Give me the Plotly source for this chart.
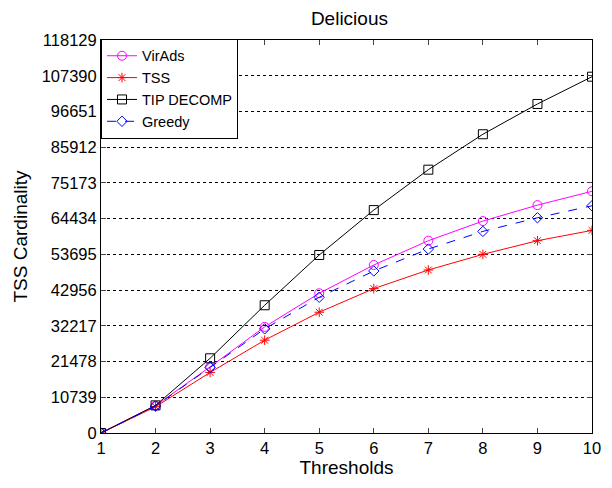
import plotly.graph_objects as go

thresholds = [1, 2, 3, 4, 5, 6, 7, 8, 9, 10]
viradss = [0, 8200, 19900, 31900, 42000, 50500, 57800, 63700, 68500, 72650]
tss = [0, 7900, 18200, 27900, 36300, 43400, 49000, 53700, 57800, 60900]
tip_decomp = [0, 8300, 22450, 38400, 53500, 67000, 79150, 89800, 98900, 107100]
greedy = [0, 8100, 19700, 31300, 40800, 48700, 55300, 60600, 64700, 68300]
y_ticks = [0, 10739, 21478, 32217, 42956, 53695, 64434, 75173, 85912, 96651, 107390, 118129]

font_family = "Liberation Sans, Arial, sans-serif"

fig = go.Figure()
series = [
    ("VirAds", viradss, "#ff00ff", "circle-open", "solid", 9),
    ("TSS", tss, "#ff0000", "asterisk-open", "solid", 8),
    ("TIP DECOMP", tip_decomp, "#000000", "square-open", "solid", 9),
    ("Greedy", greedy, "#0000ff", "diamond-open", "dash", 8),
]
for name, vals, color, sym, dash, size in series:
    fig.add_trace(go.Scatter(
        x=thresholds, y=vals, name=name, mode="lines+markers",
        line=dict(color=color, width=1, dash=dash),
        marker=dict(symbol=sym, size=size, color=color, line=dict(width=1, color=color)),
    ))

fig.update_layout(
    width=612, height=488,
    margin=dict(l=101, r=11, t=40, b=55),
    paper_bgcolor="white", plot_bgcolor="white",
    font=dict(family=font_family, size=16, color="black"),
    title=dict(text="Delicious", x=0.571, xanchor="center", y=0.963, yanchor="middle",
               font=dict(size=19)),
    showlegend=True,
    legend=dict(x=0, y=1.003, xanchor="left", yanchor="top",
                bgcolor="white", bordercolor="black", borderwidth=1,
                font=dict(size=14.5), tracegroupgap=0, itemwidth=30,
                traceorder="normal"),
)
fig.update_xaxes(
    range=[1, 10], tickvals=thresholds, ticks="inside", ticklen=5,
    showline=True, linecolor="black", linewidth=1, mirror="ticks",
    showgrid=False, zeroline=False,
    title=dict(text="Thresholds", font=dict(size=19), standoff=4),
    tickfont=dict(size=16.5),
)
fig.update_yaxes(
    range=[0, 118129], tickvals=y_ticks, ticktext=[str(v) for v in y_ticks],
    ticks="inside", ticklen=5,
    showline=True, linecolor="black", linewidth=1, mirror="ticks",
    showgrid=True, gridcolor="black", griddash="dot", gridwidth=1,
    zeroline=False,
    title=dict(text="TSS Cardinality", font=dict(size=19), standoff=8),
    tickfont=dict(size=16.5),
)

fig.write_html("out.html")
